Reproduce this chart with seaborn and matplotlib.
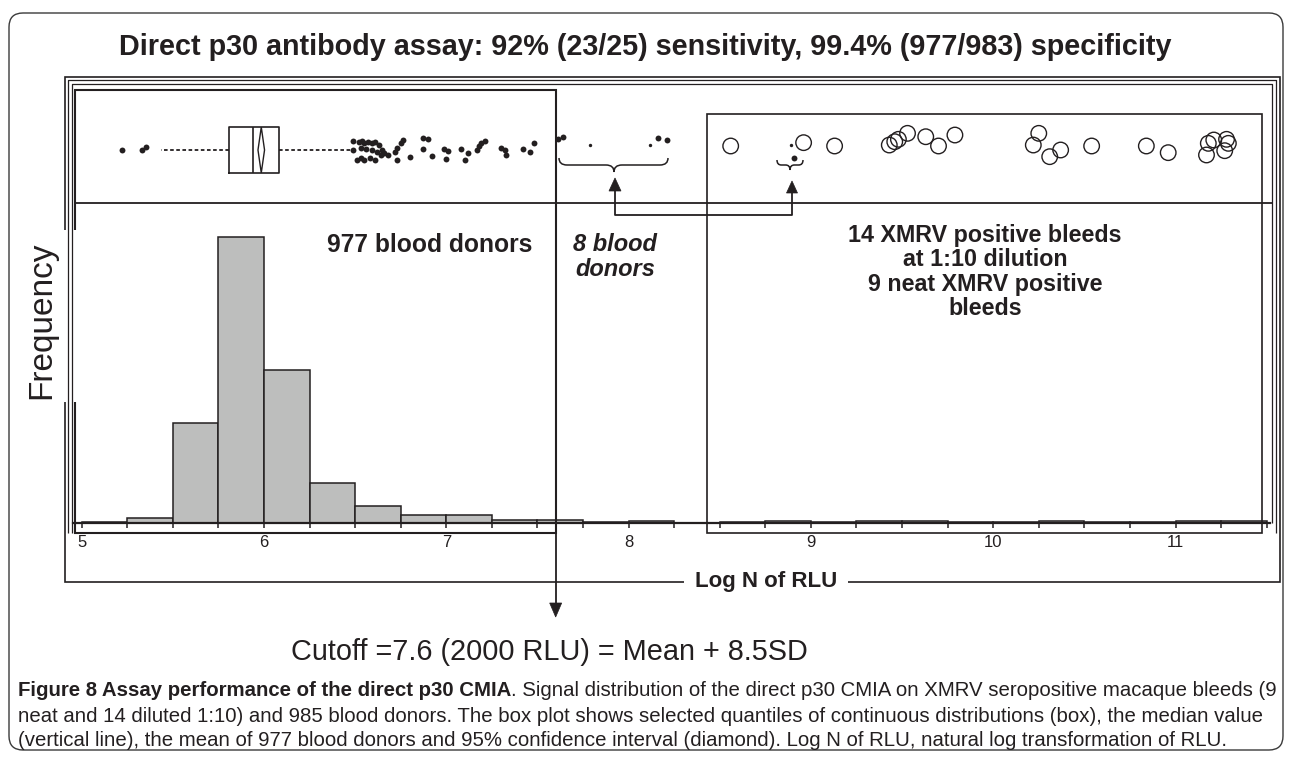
import numpy as np
import matplotlib
matplotlib.use("Agg")
import matplotlib.pyplot as plt
import seaborn as sns
from matplotlib import font_manager
from matplotlib.patches import Rectangle, FancyBboxPatch, Polygon, PathPatch
from matplotlib.path import Path

W, H = 1290, 757
INK = "#231f20"

# histogram of Log N of RLU, bin width 0.25
bin_edges = [5.0, 5.25, 5.5, 5.75, 6.0, 6.25, 6.5, 6.75, 7.0, 7.25, 7.5, 7.75, 8.0,
             8.25, 8.5, 8.75, 9.0, 9.25, 9.5, 9.75, 10.0, 10.25, 10.5, 10.75, 11.0,
             11.25, 11.5]
bin_counts = [1, 8, 157, 448, 239, 63, 26, 13, 13, 5, 5, 1, 3,
              0, 1, 3, 1, 3, 3, 1, 1, 3, 1, 2, 3, 3]
tick_values = [5, 6, 7, 8, 9, 10, 11]

# box plot of the 977 donors
box_q1, box_median, box_q3 = 5.81, 5.94, 6.08
whisker_lo, whisker_hi = 5.435, 6.49
donor_mean, donor_ci = 5.985, 0.018
cutoff = 7.6

# donor outliers below the cutoff (value, vertical jitter)
donor_out_x = [5.22, 5.33, 5.35,
               6.49, 6.52, 6.54, 6.55, 6.57, 6.59, 6.61, 6.63,
               6.49, 6.53, 6.56, 6.59, 6.62, 6.65, 6.66,
               6.51, 6.53, 6.55, 6.58, 6.61, 6.64, 6.68, 6.72, 6.73, 6.75, 6.76, 6.73, 6.80,
               6.87, 6.90, 6.87, 6.92, 6.99, 7.01, 7.00, 7.08, 7.10, 7.12, 7.17, 7.18,
               7.19, 7.21, 7.30, 7.32, 7.33, 7.42, 7.46, 7.48]
donor_out_y = [0.0, 0.0, 0.06,
               0.165, 0.147, 0.165, 0.13, 0.147, 0.118, 0.147, 0.088,
               0.0, 0.03, 0.012, 0.0, -0.03, 0.0, -0.047,
               -0.177, -0.147, -0.177, -0.147, -0.177, -0.088, -0.088, -0.03, 0.03, 0.118,
               0.177, -0.177, -0.118,
               0.207, 0.189, 0.012, -0.106, 0.012, -0.012, -0.165, 0.012, -0.177, -0.059,
               0.0, 0.071, 0.118, 0.165, 0.03, 0.0, -0.088, 0.012, -0.03, 0.13]

# the 8 donors above the cutoff
high_donor_x = [7.61, 7.64, 8.16, 8.21, 8.91]
high_donor_y = [0.195, 0.235, 0.212, 0.177, -0.136]
faint_donor_x = [7.79, 8.12, 8.89]
faint_donor_y = [0.088, 0.088, 0.088]

# XMRV positive bleeds (14 at 1:10 + 9 neat)
xmrv_x = [8.56, 8.96, 9.13, 9.43, 9.46, 9.48, 9.53, 9.63, 9.70, 9.79,
          10.25, 10.22, 10.31, 10.37, 10.54, 10.84, 10.96,
          11.18, 11.17, 11.21, 11.28, 11.29, 11.27]
xmrv_y = [0.071, 0.13, 0.071, 0.088, 0.147, 0.189, 0.295, 0.235, 0.071, 0.265,
          0.295, 0.088, -0.118, 0.0, 0.071, 0.071, -0.047,
          0.118, -0.088, 0.177, 0.189, 0.118, -0.012]

title = "Direct p30 antibody assay: 92% (23/25) sensitivity, 99.4% (977/983) specificity"
cutoff_label = "Cutoff =7.6 (2000 RLU) = Mean + 8.5SD"
caption_bold = "Figure 8 Assay performance of the direct p30 CMIA"
caption_lines = [
    ". Signal distribution of the direct p30 CMIA on XMRV seropositive macaque bleeds (9",
    "neat and 14 diluted 1:10) and 985 blood donors. The box plot shows selected quantiles of continuous distributions (box), the median value",
    "(vertical line), the mean of 977 blood donors and 95% confidence interval (diamond). Log N of RLU, natural log transformation of RLU.",
]

sns.set_style("white")
plt.rcParams["font.family"] = ["Liberation Sans", "DejaVu Sans"]
font_names = {f.name for f in font_manager.fontManager.ttflist}
cap_family = ["Liberation Sans Narrow", "DejaVu Sans"] if "Liberation Sans Narrow" in font_names \
    else ["Liberation Sans", "DejaVu Sans"]

fig = plt.figure(figsize=(W / 100, H / 100), dpi=100)


def px_axes(x0, y0, x1, y1):
    return fig.add_axes([x0 / W, 1 - y1 / H, (x1 - x0) / W, (y1 - y0) / H])


ax_hist = px_axes(73, 203, 1270, 523)
ax_strip = px_axes(73, 90, 1270, 203)
ax_top = px_axes(0, 0, W, H)

x_lo = 5 + (73 - 81.7) / 182.3
x_hi = 5 + (1270 - 81.7) / 182.3

# histogram
mids = (np.array(bin_edges[:-1]) + np.array(bin_edges[1:])) / 2
sns.histplot(x=mids, weights=bin_counts, bins=bin_edges, ax=ax_hist,
             color="#bdbebd", edgecolor=INK, linewidth=1.1, alpha=1)
ax_hist.set_xlim(x_lo, x_hi)
ax_hist.set_ylim(0, max(bin_counts) * 320 / 286)
ax_hist.set_xticks(tick_values)
ax_hist.set_xticks(bin_edges, minor=True)
ax_hist.set_yticks([])
ax_hist.set_xlabel("")
ax_hist.set_ylabel("")
for side in ["left", "right", "top"]:
    ax_hist.spines[side].set_visible(False)
ax_hist.spines["bottom"].set_linewidth(1.6)
ax_hist.spines["bottom"].set_color(INK)
ax_hist.tick_params(axis="x", which="both", direction="out", length=3.8, width=1.1,
                    color=INK, labelsize=12, pad=5, labelcolor=INK, bottom=True)
ax_hist.patch.set_alpha(0)

# box plot strip
stats = [dict(med=box_median, q1=box_q1, q3=box_q3, whislo=whisker_lo, whishi=whisker_hi, fliers=[])]
bxp_kw = dict(positions=[0], widths=0.81, showcaps=False, showfliers=False, manage_ticks=False,
              boxprops=dict(color=INK, lw=1.2), medianprops=dict(color=INK, lw=1.2),
              whiskerprops=dict(color=INK, lw=1.3, linestyle=(0, (2.0, 1.4))))
try:
    ax_strip.bxp(stats, orientation="horizontal", **bxp_kw)
except TypeError:
    ax_strip.bxp(stats, vert=False, **bxp_kw)
half = 0.81 / 2
ax_strip.add_patch(Polygon([(donor_mean - donor_ci, 0), (donor_mean, half),
                            (donor_mean + donor_ci, 0), (donor_mean, -half)],
                           closed=True, fill=False, ec=INK, lw=1.0))

sns.scatterplot(x=donor_out_x, y=donor_out_y, ax=ax_strip, color=INK, s=18, linewidth=0, legend=False)
sns.scatterplot(x=high_donor_x, y=high_donor_y, ax=ax_strip, color=INK, s=18, linewidth=0, legend=False)
sns.scatterplot(x=faint_donor_x, y=faint_donor_y, ax=ax_strip, color=INK, s=6, linewidth=0, legend=False)
sns.scatterplot(x=xmrv_x, y=xmrv_y, ax=ax_strip, s=125, legend=False)
circles = ax_strip.collections[-1]
circles.set_facecolor("none")
circles.set_edgecolor(INK)
circles.set_linewidth(1.0)
ax_strip.set_xlim(x_lo, x_hi)
ax_strip.set_ylim(-0.938, 1.062)
ax_strip.set_axis_off()

# overlay in pixel coordinates
ax_top.set_xlim(0, W)
ax_top.set_ylim(H, 0)
ax_top.set_axis_off()


def rect(x0, y0, x1, y1, lw=1.1, ec=INK):
    ax_top.add_patch(Rectangle((x0, y0), x1 - x0, y1 - y0, fill=False, ec=ec, lw=lw))


def line(xs, ys, lw=1.1):
    ax_top.plot(xs, ys, color=INK, lw=lw, solid_capstyle="butt")


def arrow_head(x, y, dy, hw):
    ax_top.add_patch(Polygon([(x - hw, y), (x + hw, y), (x, y + dy)], closed=True, fc=INK, ec=INK, lw=0.5))


def brace(x0, x1, xm, y, h, lw=1.1):
    q = min(8, (xm - x0) / 3)
    verts = [(x0, y), (x0, y + h / 2), (x0 + q, y + h / 2), (xm - q, y + h / 2),
             (xm, y + h / 2), (xm, y + h), (xm, y + h / 2), (xm + q, y + h / 2),
             (x1 - q, y + h / 2), (x1, y + h / 2), (x1, y)]
    codes = [Path.MOVETO, Path.CURVE3, Path.CURVE3, Path.LINETO, Path.CURVE3, Path.CURVE3,
             Path.CURVE3, Path.CURVE3, Path.LINETO, Path.CURVE3, Path.CURVE3]
    ax_top.add_patch(PathPatch(Path(verts, codes), fill=False, ec=INK, lw=lw))


cut_px = ax_hist.transData.transform((cutoff, 0))[0]

ax_top.add_patch(FancyBboxPatch((9, 13), 1274, 737, boxstyle="round,pad=0,rounding_size=14",
                                fc="none", ec="#3a3a3a", lw=1.0))
rect(65, 77, 1280, 582, lw=1.2)
line([68, 68, 1276, 1276], [533, 80, 80, 533], lw=0.9)
line([72, 72, 1272, 1272], [533, 84, 84, 523], lw=0.9)
rect(75, 90, cut_px, 533, lw=1.5)
line([75, 1272], [203, 203], lw=1.3)
rect(707, 114, 1262, 533, lw=1.2)

# cutoff arrow
line([cut_px, cut_px], [118, 604], lw=1.3)
arrow_head(cut_px, 603, 14, 6)

# braces linking the 8 donors
brace(559, 668, 614, 158, 14)
brace(777, 803, 790, 160, 10)
line([615, 615, 792, 792], [190, 215, 215, 192], lw=1.3)
arrow_head(615, 191, -13, 6)
arrow_head(792, 193, -12, 5.5)

# texts
t_title = ax_top.text(645, 47, title, ha="center", va="center", fontsize=16.5,
                      fontweight="bold", color=INK)
t_donors = ax_top.text(430, 245, "977 blood donors", ha="center", va="center", fontsize=17,
                       fontweight="bold", color=INK)
ax_top.text(615, 257, "8 blood\ndonors", ha="center", va="center", fontsize=17,
            fontweight="bold", fontstyle="italic", color=INK, linespacing=1.06)
t_xmrv = ax_top.text(985, 272, "14 XMRV positive bleeds\nat 1:10 dilution\n9 neat XMRV positive\nbleeds",
                     ha="center", va="center", fontsize=17, fontweight="bold", color=INK, linespacing=1.06)
ax_top.add_patch(Rectangle((16, 230), 61, 172, fc="white", ec="none"))
ax_top.text(42, 320, "Frequency", rotation=90, ha="center", va="center", fontsize=24, color=INK)
t_log = ax_top.text(766, 582, "Log N of RLU", ha="center", va="center", fontsize=16,
                    fontweight="bold", color=INK,
                    bbox=dict(fc="white", ec="none", pad=8))
t_cut = ax_top.text(549, 652, cutoff_label, ha="center", va="center", fontsize=19, color=INK)

cap_y = [690, 716, 741]
t_cap_b = ax_top.text(18, cap_y[0], caption_bold, ha="left", va="center", fontsize=13,
                      fontweight="bold", family=cap_family, color=INK)
t_cap = [ax_top.text(18, y, s, ha="left", va="center", fontsize=13, family=cap_family, color=INK)
         for y, s in zip(cap_y, caption_lines)]

renderer = fig.canvas.get_renderer()


def fit(texts, target):
    total = sum(t.get_window_extent(renderer).width for t in texts)
    for t in texts:
        t.set_fontsize(t.get_fontsize() * target / total)


fit([t_title], 1052)
fit([t_donors], 205)
fit([t_xmrv], 274)
fit([t_cut], 518)
fit([t_cap_b, t_cap[0]], 1260)
for t in t_cap[1:]:
    t.set_fontsize(t_cap[0].get_fontsize())
t_cap[0].set_x(t_cap_b.get_window_extent(renderer).x1)

fig.savefig("out.png", dpi=100, facecolor="white")
